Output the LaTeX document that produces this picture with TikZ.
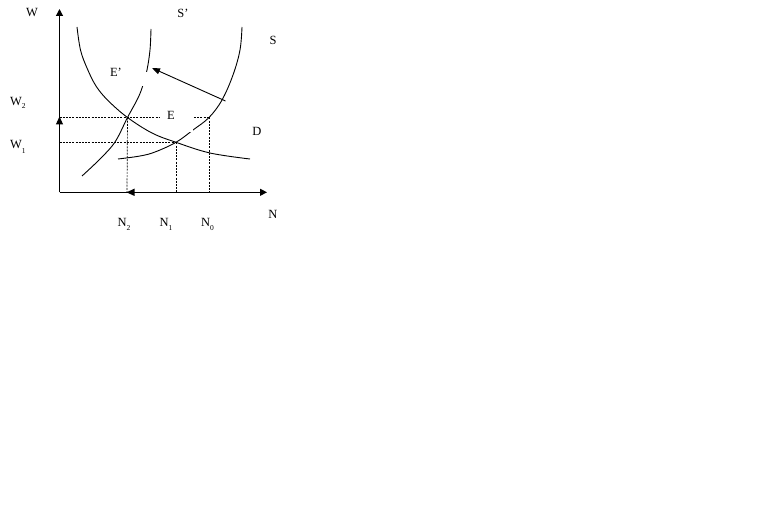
\documentclass[tikz,border=0pt]{standalone}
\usepackage{fontspec}
\setmainfont{Liberation Serif}
\usetikzlibrary{arrows.meta}
\tikzset{
  axisline/.style={line width=1.2pt, -{Triangle[length=7pt,width=7pt]}},
  tiponly/.style={line width=1.2pt, -{Triangle[length=8pt,width=7pt]}},
  curve/.style={line width=0.9pt},
  guide/.style={line width=0.7pt, dash pattern=on 2pt off 1.2pt},
  lbl/.style={font=\fontsize{12.5}{12.5}\selectfont, inner sep=0pt},
  gapbox/.style={fill=white, draw=none},
  shiftarrow/.style={line width=0.9pt, -{Triangle[length=8pt,width=6pt]}}
}
\newcommand{\lowsub}[2]{\raisebox{#1}{\fontsize{7.5}{7.5}\selectfont #2}}
\begin{document}
\begin{tikzpicture}[x=1pt,y=-1pt]
\fill[white] (0,0) rectangle (776,532);
\useasboundingbox (0,0) rectangle (776,532);
% key points
\coordinate (O) at (59.5,192.3);
\coordinate (Ytop) at (59.5,9);
\coordinate (Xend) at (267,192.3);
\coordinate (W2y) at (59.5,117.5);
\coordinate (W1y) at (59.5,142.3);
\coordinate (Eprime) at (127.5,117.5);
\coordinate (E) at (176,142.3);
\coordinate (S0) at (209,117.5);
\coordinate (N2x) at (127,192.3);
\coordinate (N1x) at (176,192.3);
\coordinate (N0x) at (209,192.3);
% curves
\draw[curve] plot[smooth, tension=0.6] coordinates {(77,27) (80.5,50) (87,68) (96,86) (108,100.5) (127.5,117.5) (152,133) (176,142.3) (210,153) (250,159)};
\draw[curve] plot[smooth, tension=0.6] coordinates {(118,159) (140,156) (155,152) (176,142.3) (193,130) (209,117.5) (222,100) (233,75) (240,50) (242,27)};
\draw[curve] plot[smooth, tension=0.6] coordinates {(82,176) (100,159) (115,142) (127.5,117.5) (138,98) (143,85) (147,70) (150,50) (151,29)};
% guide lines
\draw[guide] (W2y) -- (S0);
\draw[guide] (W1y) -- (E);
\draw[guide] (Eprime) -- (N2x);
\draw[guide] (E) -- (N1x);
\draw[guide] (S0) -- (N0x);
% label frames (white)
\fill[gapbox] (160,104) rectangle (193,132);
\fill[gapbox] (104,72) rectangle (148,86);
% axes
\draw[axisline] (O) -- (Ytop);
\draw[axisline] (O) -- (Xend);
\coordinate (Wmark0) at (59.5,126);
\coordinate (Wmark) at (59.5,116.5);
\coordinate (Nmark0) at (136,192.3);
\coordinate (Nmark) at (126.5,192.3);
\draw[tiponly] (Wmark0) -- (Wmark);
\draw[tiponly] (Nmark0) -- (Nmark);
% shift arrow
\coordinate (Afrom) at (225.5,101);
\coordinate (Ato) at (152,68);
\draw[shiftarrow] (Afrom) -- (Ato);
% labels
\node[lbl] (lW) at (32,13) {W};
\node[lbl] (lSp) at (183,13) {S’};
\node[lbl] (lS) at (273,40) {S};
\node[lbl] (lEp) at (116,72) {E’};
\node[lbl] (lE) at (171,115) {E};
\node[lbl] (lD) at (257,131) {D};
\node[lbl] (lN) at (273,214) {N};
\node[lbl, anchor=base west] (lW2) at (10,106) {W\lowsub{-3pt}{2}};
\node[lbl, anchor=base west] (lW1) at (10,149) {W\lowsub{-5pt}{1}};
\node[lbl, anchor=base west] (lN2) at (117.5,226) {N\lowsub{-4pt}{2}};
\node[lbl, anchor=base west] (lN1) at (159.5,226) {N\lowsub{-4pt}{1}};
\node[lbl, anchor=base west] (lN0) at (201,226) {N\lowsub{-4pt}{0}};
\end{tikzpicture}
\end{document}
